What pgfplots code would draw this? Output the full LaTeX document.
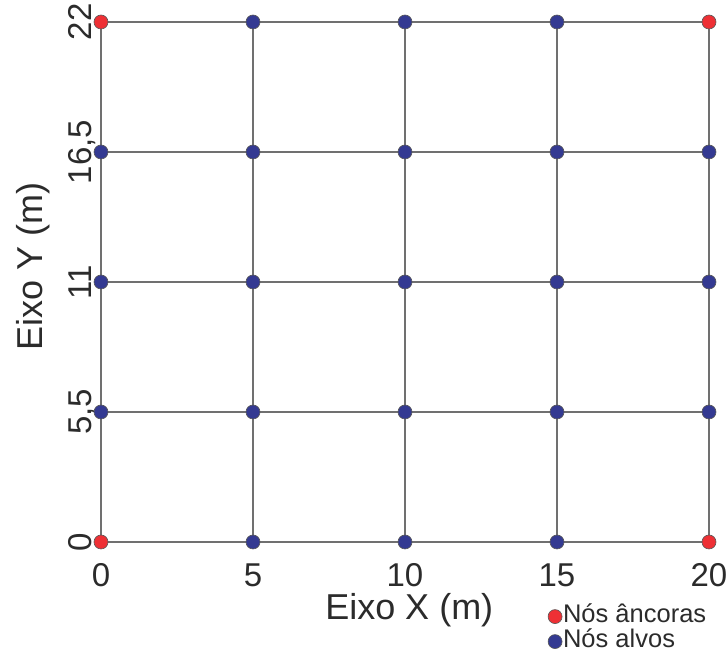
\documentclass[border=0pt]{standalone}
\usepackage{fontspec}
\setmainfont{Liberation Sans}
\usepackage{pgfplots}
\pgfplotsset{compat=1.18}
\definecolor{anc}{HTML}{EE3035}
\definecolor{alv}{HTML}{343A92}
\definecolor{gridc}{HTML}{707070}
\definecolor{txt}{HTML}{2B2B2B}
\begin{document}
\begin{tikzpicture}[x=1pt,y=1pt]
\useasboundingbox (-101,-110) rectangle (625,542);
\begin{axis}[
  width=608pt, height=520pt, scale only axis,
  xmin=0, xmax=20, ymin=0, ymax=22,
  clip=false,
  axis line style={draw=none},
  major tick length=0pt,
  xtick={0,5,10,15,20}, xticklabels={0,5,10,15,20},
  ytick={0,5.5,11,16.5}, yticklabels={0,{5,5},11,{16,5}},
  extra y ticks={22}, extra y tick labels={22\hspace{18pt}},
  extra y tick style={grid=major},
  grid=major, major grid style={gridc, line width=1.4pt},
  ticklabel style={font=\fontsize{33}{33}\selectfont, text=txt},
  xticklabel style={anchor=base},
  xticklabel shift=45pt,
  yticklabel style={rotate=90, anchor=base},
  yticklabel shift=9pt,
  xlabel={Eixo X (m)}, ylabel={Eixo Y (m)},
  label style={font=\fontsize{36}{36}\selectfont, text=txt},
  xlabel style={at={(axis description cs:0.507,-0.15)}, anchor=base},
  ylabel style={at={(axis description cs:-0.097,0.529)}, anchor=base, rotate=0},
  legend style={draw=none, fill=none, at={(axis description cs:0.735,-0.119)}, anchor=north west,
    font=\fontsize{25.5}{27}\selectfont, text=txt, row sep=0pt, inner sep=0pt,
    nodes={inner sep=1pt, text height=17pt, text depth=6pt}},
  legend cell align=left,
  legend image code/.code={\draw[#1] plot coordinates {(0.25cm,0cm)};},
]
\addplot[only marks, mark=*, mark size=7pt, mark options={fill=anc, draw=black!65, line width=0.6pt}]
  coordinates {(0,0) (20,0) (0,22) (20,22)};
\addlegendentry{Nós âncoras}
\addplot[only marks, mark=*, mark size=7pt, mark options={fill=alv, draw=black!65, line width=0.6pt}]
  coordinates {
  (5,0) (10,0) (15,0)
  (0,5.5) (5,5.5) (10,5.5) (15,5.5) (20,5.5)
  (0,11) (5,11) (10,11) (15,11) (20,11)
  (0,16.5) (5,16.5) (10,16.5) (15,16.5) (20,16.5)
  (5,22) (10,22) (15,22)};
\addlegendentry{Nós alvos}
\end{axis}
\end{tikzpicture}
\end{document}
